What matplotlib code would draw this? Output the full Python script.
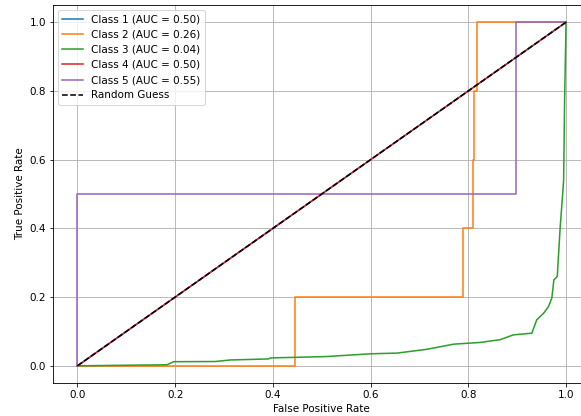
import matplotlib
matplotlib.use("Agg")
import matplotlib.pyplot as plt

labels = ["Class 1", "Class 2", "Class 3", "Class 4", "Class 5"]
aucs = [0.50, 0.26, 0.04, 0.50, 0.55]
colors = ["#1f77b4", "#ff7f0e", "#2ca02c", "#d62728", "#9467bd"]

fpr1 = [0.0, 1.0]
tpr1 = [0.0, 1.0]

fpr2 = [0.0, 0.445, 0.445, 0.79, 0.79, 0.81, 0.81, 0.812, 0.812, 0.818, 0.818, 1.0]
tpr2 = [0.0, 0.0, 0.2, 0.2, 0.4, 0.4, 0.6, 0.6, 0.8, 0.8, 1.0, 1.0]

fpr3 = [0.0, 0.183, 0.197, 0.282, 0.313, 0.391, 0.395, 0.456, 0.51, 0.6, 0.654,
        0.715, 0.77, 0.824, 0.865, 0.892, 0.93, 0.94, 0.954, 0.964, 0.971,
        0.975, 0.982, 0.988, 0.992, 0.995, 0.997, 1.0]
tpr3 = [0.0, 0.003, 0.012, 0.0125, 0.017, 0.020, 0.023, 0.025, 0.027, 0.035, 0.037,
        0.048, 0.063, 0.068, 0.076, 0.090, 0.095, 0.134, 0.153, 0.172, 0.198,
        0.25, 0.26, 0.405, 0.48, 0.54, 0.77, 1.0]

fpr4 = [0.0, 1.0]
tpr4 = [0.0, 1.0]

fpr5 = [0.0, 0.0, 0.898, 0.898, 1.0]
tpr5 = [0.0, 0.5, 0.5, 1.0, 1.0]

fprs = [fpr1, fpr2, fpr3, fpr4, fpr5]
tprs = [tpr1, tpr2, tpr3, tpr4, tpr5]

plt.rcParams["font.size"] = 10.4
plt.rcParams["lines.linewidth"] = 1.55
plt.rcParams["grid.linewidth"] = 0.85
plt.rcParams["axes.linewidth"] = 0.85

fig = plt.figure(figsize=(581 / 72, 416 / 72), dpi=72)
ax = fig.add_axes([53 / 581, 33 / 416, 537.5 / 581, 378 / 416])

for lab, auc, c, f, t in zip(labels, aucs, colors, fprs, tprs):
    ax.plot(f, t, color=c, label=f"{lab} (AUC = {auc:.2f})")
ax.plot([0, 1], [0, 1], "k--", label="Random Guess")

ax.set_xlabel("False Positive Rate")
ax.set_ylabel("True Positive Rate")
ax.legend(loc="upper left")
ax.grid(True)

fig.savefig("out.png", dpi=72)
